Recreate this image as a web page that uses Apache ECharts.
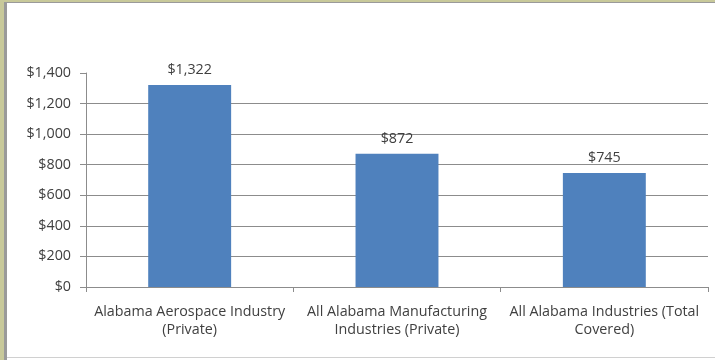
<!DOCTYPE html>
<html><head><meta charset="utf-8">
<script src="https://cdn.jsdelivr.net/npm/echarts@6/dist/echarts.min.js"></script>
<style>html,body{margin:0;padding:0;background:#fff}#c{width:715px;height:360px}</style>
</head><body><div id="c"></div>
<script>
const categories = ["Alabama Aerospace Industry\n(Private)", "All Alabama Manufacturing\nIndustries (Private)", "All Alabama Industries (Total\nCovered)"];
const values = [1322, 872, 745];
const valueLabels = ["$1,322", "$872", "$745"];
const yTicks = [0, 200, 400, 600, 800, 1000, 1200, 1400];

const font = "Open Sans";
const fs = 14.3;
const chart = echarts.init(document.getElementById('c'));
chart.setOption({
  animation: false,
  grid: {left: 86, right: 7, top: 73, bottom: 73},
  xAxis: {
    type: 'category', data: categories,
    axisLine: {lineStyle: {color: '#8c8c8c'}},
    axisTick: {show: true, alignWithLabel: false, length: 5, lineStyle: {color: '#8c8c8c'}},
    axisLabel: {color: '#404040', fontFamily: font, fontSize: fs, lineHeight: 18, margin: 16, interval: 0}
  },
  yAxis: {
    type: 'value', min: yTicks[0], max: yTicks[yTicks.length - 1], interval: 200,
    axisLine: {show: true, lineStyle: {color: '#8c8c8c'}},
    axisTick: {show: true, length: 6, lineStyle: {color: '#8c8c8c'}},
    axisLabel: {color: '#404040', fontFamily: font, fontSize: fs, margin: 15,
      formatter: v => '$' + v.toLocaleString('en-US')},
    splitLine: {show: true, lineStyle: {color: ['#8c8c8c','#8c8c8c','#8c8c8c','#8c8c8c','#8c8c8c','#8c8c8c','#8c8c8c','rgba(0,0,0,0)']}}
  },
  series: [{
    type: 'bar', data: values, barWidth: '40%',
    itemStyle: {color: '#4F81BD'},
    label: {show: true, position: 'top', distance: 8, color: '#404040', fontFamily: font, fontSize: fs,
      formatter: p => valueLabels[p.dataIndex]}
  }],
  graphic: [
    {type: 'rect', shape: {x: 0, y: 0, width: 4, height: 360}, style: {fill: '#C8C99A'}, z: 100},
    {type: 'rect', shape: {x: 4, y: 0, width: 3, height: 360}, style: {fill: '#9a9a9a'}, z: 100},
    {type: 'rect', shape: {x: 0, y: 0, width: 715, height: 2}, style: {fill: '#C8C99A'}, z: 100},
    {type: 'rect', shape: {x: 4, y: 2, width: 711, height: 1}, style: {fill: '#9a9a9a'}, z: 100},
    {type: 'rect', shape: {x: 7, y: 357, width: 708, height: 1}, style: {fill: '#d0d0d0'}, z: 100}
  ]
});
</script></body></html>
